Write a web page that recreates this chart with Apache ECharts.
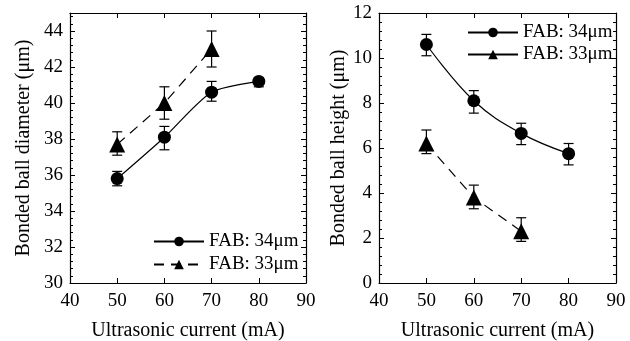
<!DOCTYPE html>
<html>
<head>
<meta charset="utf-8">
<script src="https://cdn.jsdelivr.net/npm/echarts@6/dist/echarts.min.js"></script>
<style>
  html, body { margin: 0; background: #fff; }
  #chart { width: 630px; height: 341px; }
</style>
</head>
<body>
<div id="chart"></div>
<script>
// ultrasonic current (mA)
const current34 = [50, 60, 70, 80]
const current33 = [50, 60, 70]

// bonded ball diameter (um)
const diam34 = [35.8, 38.1, 40.6, 41.2]
const diam34Lo = [35.4, 37.4, 40.1, 40.9]
const diam34Hi = [36.2, 38.7, 41.2, 41.4]
const diam33 = [37.7, 40.0, 43.0]
const diam33Lo = [37.1, 39.1, 42.0]
const diam33Hi = [38.4, 40.9, 44.0]

// bonded ball height (um)
const height34 = [10.6, 8.1, 6.65, 5.75]
const height34Lo = [10.1, 7.55, 6.15, 5.25]
const height34Hi = [11.05, 8.55, 7.1, 6.2]
const height33 = [6.2, 3.8, 2.3]
const height33Lo = [5.75, 3.3, 1.85]
const height33Hi = [6.8, 4.35, 2.9]

const NAME34 = 'FAB: 34μm'
const NAME33 = 'FAB: 33μm'
const FONT = 'Liberation Serif'
const FS = 19
const BLACK = '#000'

const pairs = (xs, ys) => xs.map((x, i) => [x, ys[i]])
const triples = (xs, lo, hi) => xs.map((x, i) => [x, lo[i], hi[i]])

function errorBars(idx, data) {
  return {
    type: 'custom',
    xAxisIndex: idx,
    yAxisIndex: idx,
    silent: true,
    z: 1,
    data: data,
    encode: { x: 0, y: [1, 2] },
    renderItem: (params, api) => {
      const lo = api.coord([api.value(0), api.value(1)])
      const hi = api.coord([api.value(0), api.value(2)])
      const w = 5
      const style = { stroke: BLACK, lineWidth: 1.2 }
      return {
        type: 'group',
        children: [
          { type: 'line', shape: { x1: lo[0], y1: lo[1], x2: hi[0], y2: hi[1] }, style },
          { type: 'line', shape: { x1: lo[0] - w, y1: lo[1], x2: lo[0] + w, y2: lo[1] }, style },
          { type: 'line', shape: { x1: hi[0] - w, y1: hi[1], x2: hi[0] + w, y2: hi[1] }, style },
        ],
      }
    },
  }
}

function xAxes(idx) {
  const base = {
    type: 'value',
    gridIndex: idx,
    min: 40,
    max: 90,
    interval: 10,
    splitLine: { show: false },
    axisLine: { onZero: false, lineStyle: { color: BLACK, width: 1.2 } },
    axisTick: { inside: true, length: 5, lineStyle: { color: BLACK } },
  }
  return [
    {
      ...base,
      position: 'bottom',
      name: 'Ultrasonic current (mA)',
      nameLocation: 'middle',
      nameGap: 38,
      nameTextStyle: { fontFamily: FONT, fontSize: FS + 1, color: BLACK },
      axisLabel: { fontFamily: FONT, fontSize: FS, color: BLACK, margin: 9 },
    },
    { ...base, position: 'top', axisLabel: { show: false } },
  ]
}

function yAxes(idx, min, max, name, gap) {
  const base = {
    type: 'value',
    gridIndex: idx,
    min: min,
    max: max,
    interval: 2,
    splitLine: { show: false },
    axisLine: { onZero: false, lineStyle: { color: BLACK, width: 1.2 } },
    axisTick: { inside: true, length: 5, lineStyle: { color: BLACK } },
    minorTick: { show: true, splitNumber: 5, length: 3, lineStyle: { color: BLACK } },
  }
  return [
    {
      ...base,
      position: 'left',
      name: name,
      nameLocation: 'middle',
      nameGap: gap,
      nameTextStyle: { fontFamily: FONT, fontSize: FS + 1, color: BLACK },
      axisLabel: {
        fontFamily: FONT,
        fontSize: FS,
        color: BLACK,
        margin: 7,
        formatter: (v) => (v % 2 === 0 ? String(v) : ''),
      },
    },
    { ...base, position: 'right', axisLabel: { show: false } },
  ]
}

function lineSeries(idx, name, data, symbol, size, dashed, smooth) {
  return {
    type: 'line',
    name: name,
    xAxisIndex: idx,
    yAxisIndex: idx,
    data: data,
    symbol: symbol,
    symbolSize: size,
    smooth: smooth,
    z: 3,
    itemStyle: { color: BLACK },
    lineStyle: { color: BLACK, width: 1.2, type: dashed ? [10, 7] : 'solid' },
  }
}

const legendText = { fontFamily: FONT, fontSize: FS, color: BLACK }

const x = xAxes(0).concat(xAxes(1))
const y = yAxes(0, 30, 45, 'Bonded ball diameter (μm)', 36).concat(
  yAxes(1, 0, 12, 'Bonded ball height (μm)', 20)
)
// each chart has two x and two y axes (bottom/top, left/right)
x[2].gridIndex = 1
x[3].gridIndex = 1
y[2].gridIndex = 1
y[3].gridIndex = 1

const option = {
  animation: false,
  backgroundColor: '#fff',
  grid: [
    { left: 70, top: 13, width: 236, height: 270, outerBoundsMode: 'none' },
    { left: 379, top: 13, width: 237, height: 270, outerBoundsMode: 'none' },
  ],
  xAxis: x,
  yAxis: y,
  legend: [
    {
      data: [NAME34, NAME33],
      orient: 'vertical',
      left: 148,
      top: 227,
      itemWidth: 50,
      itemHeight: 12,
      itemGap: 4,
      textStyle: legendText,
      selectedMode: false,
    },
    {
      data: [NAME34, NAME33],
      orient: 'vertical',
      left: 462,
      top: 18,
      itemWidth: 50,
      itemHeight: 12,
      itemGap: 3,
      textStyle: legendText,
      selectedMode: false,
      lineStyle: { type: 'solid' },
    },
  ],
  series: [
    lineSeries(0, NAME34, pairs(current34, diam34), 'circle', 13, false, 0.25),
    lineSeries(0, NAME33, pairs(current33, diam33), 'triangle', 16, true, false),
    errorBars(0, triples(current34, diam34Lo, diam34Hi)),
    errorBars(0, triples(current33, diam33Lo, diam33Hi)),
    lineSeries(2, NAME34, pairs(current34, height34), 'circle', 13, false, 0.4),
    lineSeries(2, NAME33, pairs(current33, height33), 'triangle', 16, true, false),
    errorBars(2, triples(current34, height34Lo, height34Hi)),
    errorBars(2, triples(current33, height33Lo, height33Hi)),
  ],
}

const chart = echarts.init(document.getElementById('chart'))
chart.setOption(option)
</script>
</body>
</html>
